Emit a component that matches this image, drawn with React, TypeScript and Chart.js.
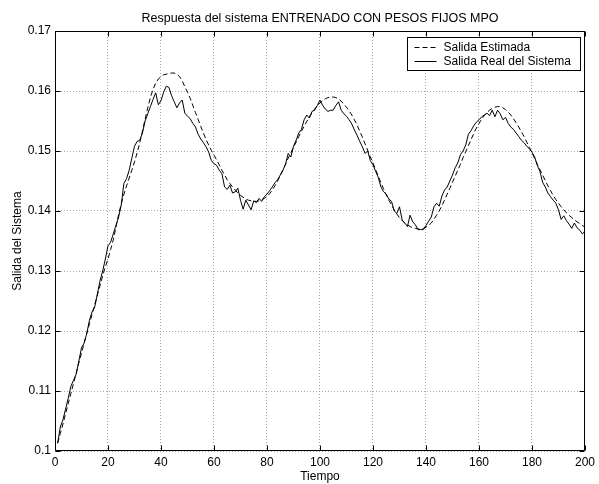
import React, { useEffect, useRef } from 'react';
import { Chart, registerables } from 'chart.js';

Chart.register(...registerables);

const chartTitle = 'Respuesta del sistema ENTRENADO CON PESOS FIJOS MPO';
const xAxisLabel = 'Tiempo';
const yAxisLabel = 'Salida del Sistema';
const seriesNames = ['Salida Estimada', 'Salida Real del Sistema'];

const xTickValues = [0, 20, 40, 60, 80, 100, 120, 140, 160, 180, 200];
const yTickValues = [0.1, 0.11, 0.12, 0.13, 0.14, 0.15, 0.16, 0.17];
const yTickLabels = ['0.1', '0.11', '0.12', '0.13', '0.14', '0.15', '0.16', '0.17'];

const tiempo = [
  1, 2, 3, 4, 5, 6, 7, 8, 9, 10, 11, 12, 13, 14, 15, 16, 17, 18, 19, 20,
  21, 22, 23, 24, 25, 26, 27, 28, 29, 30, 31, 32, 33, 34, 35, 36, 37, 38, 39, 40,
  41, 42, 43, 44, 45, 46, 47, 48, 49, 50, 51, 52, 53, 54, 55, 56, 57, 58, 59, 60,
  61, 62, 63, 64, 65, 66, 67, 68, 69, 70, 71, 72, 73, 74, 75, 76, 77, 78, 79, 80,
  81, 82, 83, 84, 85, 86, 87, 88, 89, 90, 91, 92, 93, 94, 95, 96, 97, 98, 99, 100,
  101, 102, 103, 104, 105, 106, 107, 108, 109, 110, 111, 112, 113, 114, 115, 116, 117, 118, 119, 120,
  121, 122, 123, 124, 125, 126, 127, 128, 129, 130, 131, 132, 133, 134, 135, 136, 137, 138, 139, 140,
  141, 142, 143, 144, 145, 146, 147, 148, 149, 150, 151, 152, 153, 154, 155, 156, 157, 158, 159, 160,
  161, 162, 163, 164, 165, 166, 167, 168, 169, 170, 171, 172, 173, 174, 175, 176, 177, 178, 179, 180,
  181, 182, 183, 184, 185, 186, 187, 188, 189, 190, 191, 192, 193, 194, 195, 196, 197, 198, 199, 200,
];

const salidaEstimada = [
  0.1013, 0.1029, 0.1045, 0.1062, 0.1079, 0.1096, 0.1113, 0.1130, 0.1147, 0.1163,
  0.1180, 0.1196, 0.1212, 0.1228, 0.1244, 0.1260, 0.1276, 0.1292, 0.1307, 0.1320,
  0.1336, 0.1352, 0.1373, 0.1394, 0.1412, 0.1428, 0.1442, 0.1455, 0.1468, 0.1482,
  0.1497, 0.1514, 0.1533, 0.1553, 0.1572, 0.1589, 0.1603, 0.1613, 0.1620, 0.1624,
  0.1627, 0.1628, 0.1629, 0.1630, 0.1630, 0.1628, 0.1624, 0.1617, 0.1607, 0.1598,
  0.1588, 0.1576, 0.1564, 0.1553, 0.1541, 0.1530, 0.1519, 0.1510, 0.1501, 0.1493,
  0.1485, 0.1477, 0.1468, 0.1460, 0.1452, 0.1446, 0.1440, 0.1435, 0.1430, 0.1426,
  0.1423, 0.1420, 0.1418, 0.1417, 0.1416, 0.1416, 0.1417, 0.1419, 0.1421, 0.1424,
  0.1429, 0.1435, 0.1442, 0.1450, 0.1459, 0.1468, 0.1478, 0.1488, 0.1497, 0.1506,
  0.1515, 0.1524, 0.1533, 0.1541, 0.1549, 0.1557, 0.1564, 0.1570, 0.1576, 0.1580,
  0.1584, 0.1587, 0.1589, 0.1590, 0.1590, 0.1589, 0.1587, 0.1583, 0.1578, 0.1573,
  0.1567, 0.1560, 0.1552, 0.1543, 0.1533, 0.1523, 0.1512, 0.1501, 0.1490, 0.1480,
  0.1469, 0.1458, 0.1447, 0.1437, 0.1427, 0.1418, 0.1410, 0.1402, 0.1395, 0.1389,
  0.1384, 0.1380, 0.1377, 0.1374, 0.1372, 0.1371, 0.1370, 0.1370, 0.1371, 0.1373,
  0.1376, 0.1380, 0.1386, 0.1393, 0.1400, 0.1409, 0.1418, 0.1428, 0.1438, 0.1448,
  0.1458, 0.1468, 0.1478, 0.1489, 0.1499, 0.1509, 0.1519, 0.1529, 0.1538, 0.1546,
  0.1553, 0.1559, 0.1564, 0.1568, 0.1571, 0.1573, 0.1574, 0.1574, 0.1572, 0.1569,
  0.1565, 0.1560, 0.1554, 0.1547, 0.1540, 0.1532, 0.1524, 0.1515, 0.1506, 0.1497,
  0.1488, 0.1478, 0.1469, 0.1460, 0.1451, 0.1442, 0.1434, 0.1426, 0.1419, 0.1413,
  0.1407, 0.1402, 0.1397, 0.1393, 0.1389, 0.1385, 0.1382, 0.1379, 0.1376, 0.1373,
];

const salidaReal = [
  0.1013, 0.1040, 0.1052, 0.1070, 0.1088, 0.1108, 0.1118, 0.1128, 0.1150, 0.1172,
  0.1180, 0.1196, 0.1218, 0.1232, 0.1240, 0.1262, 0.1284, 0.1300, 0.1320, 0.1342,
  0.1348, 0.1362, 0.1376, 0.1390, 0.1410, 0.1446, 0.1454, 0.1468, 0.1488, 0.1508,
  0.1516, 0.1518, 0.1530, 0.1550, 0.1562, 0.1574, 0.1586, 0.1597, 0.1577, 0.1584,
  0.1598, 0.1608, 0.1606, 0.1592, 0.1582, 0.1572, 0.1580, 0.1585, 0.1563, 0.1558,
  0.1554, 0.1546, 0.1540, 0.1528, 0.1520, 0.1514, 0.1507, 0.1498, 0.1484, 0.1479,
  0.1476, 0.1468, 0.1462, 0.1440, 0.1436, 0.1443, 0.1430, 0.1432, 0.1438, 0.1418,
  0.1403, 0.1418, 0.1410, 0.1402, 0.1417, 0.1414, 0.1421, 0.1416, 0.1424, 0.1428,
  0.1434, 0.1440, 0.1447, 0.1452, 0.1460, 0.1468, 0.1478, 0.1496, 0.1490, 0.1508,
  0.1518, 0.1530, 0.1536, 0.1552, 0.1560, 0.1555, 0.1566, 0.1568, 0.1576, 0.1585,
  0.1576, 0.1570, 0.1566, 0.1568, 0.1568, 0.1576, 0.1582, 0.1568, 0.1562, 0.1558,
  0.1552, 0.1545, 0.1535, 0.1526, 0.1516, 0.1507, 0.1496, 0.1500, 0.1484, 0.1477,
  0.1466, 0.1456, 0.1440, 0.1432, 0.1428, 0.1420, 0.1416, 0.1400, 0.1396, 0.1407,
  0.1385, 0.1380, 0.1374, 0.1393, 0.1382, 0.1377, 0.1369, 0.1369, 0.1369, 0.1376,
  0.1383, 0.1390, 0.1407, 0.1413, 0.1408, 0.1425, 0.1435, 0.1440, 0.1450, 0.1460,
  0.1472, 0.1480, 0.1494, 0.1500, 0.1510, 0.1528, 0.1534, 0.1542, 0.1548, 0.1552,
  0.1557, 0.1560, 0.1563, 0.1559, 0.1568, 0.1557, 0.1568, 0.1562, 0.1552, 0.1556,
  0.1546, 0.1540, 0.1536, 0.1530, 0.1524, 0.1518, 0.1514, 0.1508, 0.1504, 0.1498,
  0.1490, 0.1476, 0.1466, 0.1448, 0.1440, 0.1430, 0.1424, 0.1418, 0.1413, 0.1402,
  0.1386, 0.1392, 0.1384, 0.1378, 0.1371, 0.1380, 0.1372, 0.1368, 0.1362, 0.1366,
];

const FONT_FAMILY = '"Liberation Sans", Arial, Helvetica, sans-serif';

const matlabAxesPlugin = {
  id: 'matlabAxes',
  afterDatasetsDraw(chart: any) {
    const { ctx, chartArea: a, scales } = chart;
    const L = Math.round(a.left) + 0.5;
    const R = Math.round(a.right) - 0.5;
    const T = Math.round(a.top) + 0.5;
    const B = Math.round(a.bottom) - 0.5;
    ctx.save();
    ctx.strokeStyle = '#000';
    ctx.lineWidth = 1;
    ctx.setLineDash([]);
    ctx.beginPath();
    ctx.rect(L, T, R - L, B - T);
    ctx.stroke();
    const tk = 5;
    ctx.beginPath();
    scales.x.ticks.forEach((t: any) => {
      const px = Math.round(scales.x.getPixelForValue(t.value)) + 0.5;
      ctx.moveTo(px, B);
      ctx.lineTo(px, B - tk);
      ctx.moveTo(px, T);
      ctx.lineTo(px, T + tk);
    });
    scales.y.ticks.forEach((t: any) => {
      const py = Math.round(scales.y.getPixelForValue(t.value)) + 0.5;
      ctx.moveTo(L, py);
      ctx.lineTo(L + tk, py);
      ctx.moveTo(R, py);
      ctx.lineTo(R - tk, py);
    });
    ctx.stroke();
    ctx.restore();
  },
  afterDraw(chart: any) {
    const { ctx, chartArea: a } = chart;
    const datasets = chart.data.datasets;
    ctx.save();
    // title, centred over the plot area
    ctx.font = '12.5px ' + FONT_FAMILY;
    ctx.fillStyle = '#000';
    ctx.textAlign = 'center';
    ctx.textBaseline = 'middle';
    ctx.fillText(chartTitle, (a.left + a.right) / 2, 19);

    // legend
    ctx.font = '12px ' + FONT_FAMILY;
    let textW = 0;
    datasets.forEach((d: any) => {
      textW = Math.max(textW, ctx.measureText(d.label).width);
    });
    const padL = 7;
    const sampleLen = 22;
    const gap = 7;
    const padR = 10;
    const rowH = 14.7;
    const boxW = padL + sampleLen + gap + textW + padR;
    const boxH = 33;
    const right = Math.round(a.right) - 4.5;
    const left = Math.round(right - boxW) + 0.5;
    const top = Math.round(a.top) + 6.5;
    ctx.fillStyle = '#fff';
    ctx.fillRect(left, top, right - left, boxH);
    ctx.strokeStyle = '#000';
    ctx.lineWidth = 1;
    ctx.setLineDash([]);
    ctx.strokeRect(left, top, right - left, boxH);
    datasets.forEach((d: any, i: number) => {
      const y = Math.round(top + 9 + i * rowH) + 0.5;
      ctx.beginPath();
      ctx.setLineDash(d.borderDash || []);
      ctx.strokeStyle = d.borderColor;
      ctx.lineWidth = d.borderWidth;
      ctx.moveTo(left + padL, y);
      ctx.lineTo(left + padL + sampleLen, y);
      ctx.stroke();
      ctx.setLineDash([]);
      ctx.fillStyle = '#000';
      ctx.textBaseline = 'middle';
      ctx.textAlign = 'left';
      ctx.fillText(d.label, left + padL + sampleLen + gap, y);
    });
    ctx.restore();
  },
};

export default function App() {
  const canvasRef = useRef<HTMLCanvasElement | null>(null);

  useEffect(() => {
    const canvas = canvasRef.current;
    if (!canvas) return;
    const gridColor = '#a8a8a8';
    const chart = new Chart(canvas, {
      type: 'line',
      data: {
        datasets: [
          {
            label: seriesNames[0],
            data: tiempo.map((t, i) => ({ x: t, y: salidaEstimada[i] })),
            borderColor: '#000',
            borderWidth: 1,
            borderDash: [5, 3],
            pointRadius: 0,
            tension: 0,
            fill: false,
          },
          {
            label: seriesNames[1],
            data: tiempo.map((t, i) => ({ x: t, y: salidaReal[i] })),
            borderColor: '#000',
            borderWidth: 1,
            pointRadius: 0,
            tension: 0,
            fill: false,
          },
        ],
      },
      options: {
        responsive: false,
        animation: false,
        devicePixelRatio: 1,
        layout: { padding: { top: 31, left: 0, right: 13, bottom: 0 } },
        plugins: {
          legend: { display: false },
          tooltip: { enabled: false },
          title: { display: false },
        },
        scales: {
          x: {
            type: 'linear',
            min: 0,
            max: 200,
            afterBuildTicks: (scale: any) => {
              scale.ticks = xTickValues.map((v) => ({ value: v }));
            },
            afterFit: (scale: any) => {
              scale.height = 33;
            },
            ticks: {
              color: '#000',
              padding: 4,
              font: { family: FONT_FAMILY, size: 12 },
              callback: (v: any) => String(v),
            },
            grid: { color: gridColor, lineWidth: 1, drawTicks: false },
            border: { display: false, dash: [1, 2] },
            title: {
              display: true,
              text: xAxisLabel,
              color: '#000',
              font: { family: FONT_FAMILY, size: 12 },
              padding: { top: 0, bottom: 0 },
            },
          },
          y: {
            type: 'linear',
            min: 0.1,
            max: 0.17,
            afterBuildTicks: (scale: any) => {
              scale.ticks = yTickValues.map((v) => ({ value: v }));
            },
            afterFit: (scale: any) => {
              scale.width = 55;
            },
            ticks: {
              color: '#000',
              padding: 4,
              font: { family: FONT_FAMILY, size: 12 },
              callback: (_v: any, idx: number) => yTickLabels[idx],
            },
            grid: { color: gridColor, lineWidth: 1, drawTicks: false },
            border: { display: false, dash: [1, 2] },
            title: {
              display: true,
              text: yAxisLabel,
              color: '#000',
              font: { family: FONT_FAMILY, size: 12 },
              padding: { top: 10, bottom: 0 },
            },
          },
        },
      },
      plugins: [matlabAxesPlugin],
    } as any);
    return () => chart.destroy();
  }, []);

  return (
    <div style={{ position: 'fixed', left: 0, top: 0, width: 599, height: 484, background: '#fff' }}>
      <canvas ref={canvasRef} width={599} height={484} style={{ display: 'block' }} />
    </div>
  );
}
